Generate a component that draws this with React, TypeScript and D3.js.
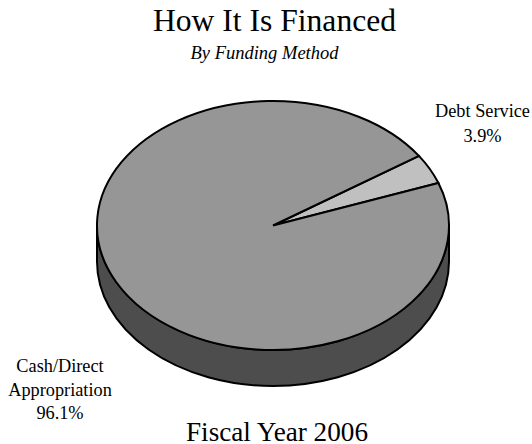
import React from 'react';
import * as d3 from 'd3';

const labels = ['Debt Service', 'Cash/Direct Appropriation'];
const values = [3.9, 96.1];
const colors = ['#c0c0c0', '#969696'];
const sideColor = '#4d4d4d';

const cx = 273, cy = 225.5, rx = 176, ry = 124.5, depth = 36;

export default function App() {
  const pie = d3.pie<number>().sort(null).startAngle(0).endAngle(2 * Math.PI)(values);
  const startDeg = 56;
  const toPt = (a: number) => {
    const t = a + (startDeg * Math.PI) / 180;
    return [cx + rx * Math.sin(t), cy - ry * Math.cos(t)];
  };
  const wedge = (a0: number, a1: number) => {
    const p0 = toPt(a0), p1 = toPt(a1);
    const large = a1 - a0 > Math.PI ? 1 : 0;
    return `M${cx},${cy}L${p0[0]},${p0[1]}A${rx},${ry} 0 ${large} 1 ${p1[0]},${p1[1]}Z`;
  };
  const side = `M${cx - rx},${cy}A${rx},${ry} 0 0 0 ${cx + rx},${cy}L${cx + rx},${cy + depth}A${rx},${ry} 0 0 1 ${cx - rx},${cy + depth}Z`;
  return (
    <svg width={532} height={444} style={{ position: 'absolute', left: 0, top: 0, fontFamily: '"Liberation Serif"' }}>
      <rect width={532} height={444} fill="#fff" />
      <path d={side} fill={sideColor} stroke="#000" strokeWidth={2} />
      {pie.map((d, i) => (
        <path key={i} d={wedge(d.startAngle, d.endAngle)} fill={colors[i]} stroke="#000" strokeWidth={2} />
      ))}
      <text x={274.5} y={31} textAnchor="middle" fontSize={31.6}>How It Is Financed</text>
      <text x={264.5} y={59} textAnchor="middle" fontSize={18.5} fontStyle="italic">By Funding Method</text>
      <text x={482.5} y={117} textAnchor="middle" fontSize={18.3}>{labels[0]}</text>
      <text x={482.5} y={142} textAnchor="middle" fontSize={18.3}>3.9%</text>
      <text x={60} y={372} textAnchor="middle" fontSize={18.3}>Cash/Direct</text>
      <text x={60} y={396} textAnchor="middle" fontSize={18.3}>Appropriation</text>
      <text x={60} y={419} textAnchor="middle" fontSize={18.3}>96.1%</text>
      <text x={277} y={441} textAnchor="middle" fontSize={27.2}>Fiscal Year 2006</text>
    </svg>
  );
}
